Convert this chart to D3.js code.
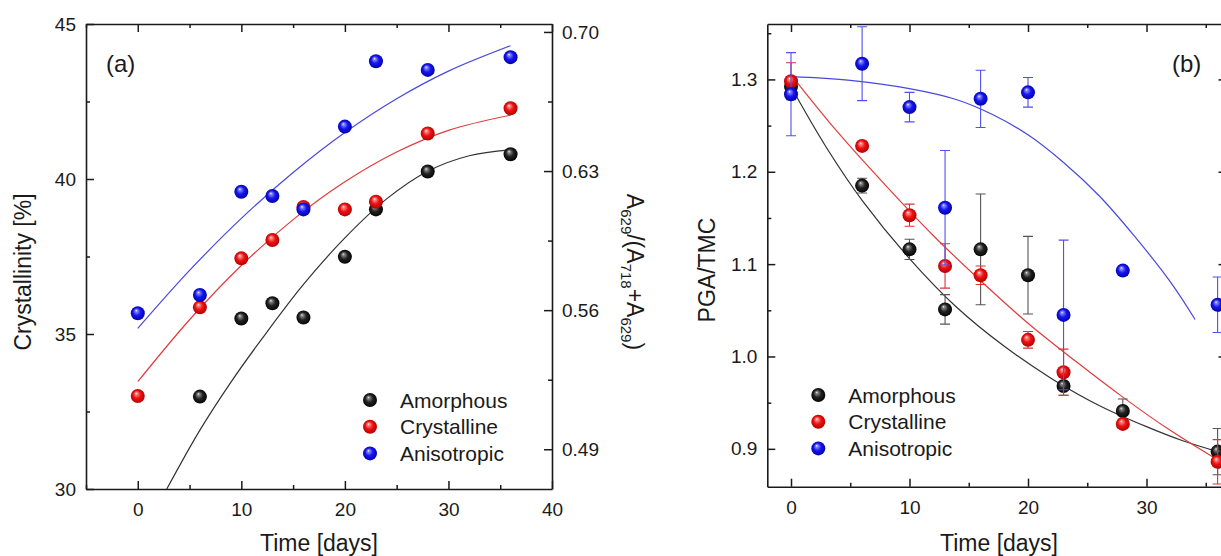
<!DOCTYPE html>
<html>
<head>
<meta charset="utf-8">
<script src="https://cdn.jsdelivr.net/npm/d3@7"></script>
<style>
  html, body { margin: 0; padding: 0; background: #fff; }
  svg { display: block; font-family: "Liberation Sans", Arial, sans-serif; }
</style>
</head>
<body>
<div id="chart"></div>
<script>
// ---------- data ----------
const seriesNames = ['Amorphous', 'Crystalline', 'Anisotropic'];

// panel (a): crystallinity [%] vs time [days]
const crystAmorphous   = [[6, 32.98], [10, 35.5], [13, 35.99], [16, 35.53], [20, 37.49], [23, 39.02], [28, 40.24], [36, 40.8]];
const crystCrystalline = [[0, 33.0], [6, 35.86], [10, 37.44], [13, 38.03], [16, 39.1], [20, 39.02], [23, 39.27], [28, 41.47], [36, 42.28]];
const crystAnisotropic = [[0, 35.67], [6, 36.26], [10, 39.59], [13, 39.45], [16, 39.02], [20, 41.69], [23, 43.8], [28, 43.52], [36, 43.93]];

const fitAAmorphous   = [[2.8, 30.0], [6, 31.9], [9, 33.45], [12, 34.85], [16, 36.6], [20, 38.1], [24, 39.35], [28, 40.25], [32, 40.75], [36, 40.94]];
const fitACrystalline = [[0, 33.46], [5, 35.46], [10, 37.21], [15, 38.69], [20, 39.91], [25, 40.87], [30, 41.57], [36, 42.06]];
const fitAAnisotropic = [[0, 35.18], [5, 37.05], [10, 38.73], [15, 40.21], [20, 41.5], [25, 42.59], [30, 43.48], [36, 44.3]];

// panel (b): PGA/TMC vs time [days]  -> [day, value, error]
const pgaAmorphous   = [[0, 1.292, 0.01], [6, 1.185, 0.008], [10, 1.116, 0.011], [13, 1.051, 0.016], [16, 1.116, 0.06], [20, 1.088, 0.042], [23, 0.968, 0.01], [28, 0.941, 0.013], [36, 0.897, 0.025]];
const pgaCrystalline = [[0, 1.298, 0.02], [6, 1.228, 0.005], [10, 1.153, 0.012], [13, 1.098, 0.024], [16, 1.088, 0.01], [20, 1.018, 0.009], [23, 0.983, 0.025], [28, 0.927, 0.005], [36, 0.886, 0.024]];
const pgaAnisotropic = [[0, 1.284, 0.045], [6, 1.317, 0.04], [10, 1.270, 0.016], [13, 1.161, 0.062], [16, 1.279, 0.031], [20, 1.286, 0.016], [23, 1.045, 0.081], [28, 1.093, 0.005], [36, 1.056, 0.03]];

const fitBAmorphous   = [[0, 1.292], [3, 1.226], [6, 1.169], [10, 1.106], [14, 1.053], [18, 1.011], [22, 0.976], [26, 0.947], [30, 0.924], [33, 0.909], [36, 0.897]];
const fitBCrystalline = [[0, 1.305], [4, 1.242], [8, 1.185], [12, 1.131], [16, 1.082], [20, 1.036], [24, 0.995], [28, 0.956], [32, 0.920], [36, 0.888]];
const fitBAnisotropic = [[0, 1.303], [5, 1.299], [10, 1.290], [14, 1.278], [17, 1.262], [20, 1.240], [23, 1.210], [26, 1.174], [29, 1.130], [32, 1.081], [34.1, 1.040]];

// axis ticks
const ticksAX = [0, 10, 20, 30, 40];
const ticksAY = [30, 35, 40, 45];
const ticksAY2 = [0.49, 0.56, 0.63, 0.70];
const ticksBX = [0, 10, 20, 30];
const ticksBY = [0.9, 1.0, 1.1, 1.2, 1.3];

// ---------- drawing ----------
const W = 1221, H = 556;
const ink = '#1a1a1a';
const lineColor = { Amorphous: '#333333', Crystalline: '#e23b3b', Anisotropic: '#4848e0' };
const errColor  = { Amorphous: '#555555', Crystalline: '#e03030', Anisotropic: '#5050f0' };
const shade = {
  Amorphous:   ['#f4f4f4', '#8a8a8a', '#222222', '#000000'],
  Crystalline: ['#ffffff', '#ff8a8a', '#ee1111', '#a80000'],
  Anisotropic: ['#ffffff', '#8a8aff', '#1515ee', '#0000a0']
};

const svg = d3.select('#chart').append('svg')
  .attr('width', W).attr('height', H)
  .attr('viewBox', `0 0 ${W} ${H}`);

const defs = svg.append('defs');
seriesNames.forEach((name, i) => {
  const gr = defs.append('radialGradient')
    .attr('id', 'ball' + i)
    .attr('cx', 0.5).attr('cy', 0.5).attr('r', 0.55)
    .attr('fx', 0.38).attr('fy', 0.3);
  [[0, 0], [0.14, 1], [0.5, 2], [1, 3]].forEach(([o, k]) =>
    gr.append('stop').attr('offset', o).attr('stop-color', shade[name][k]));
});

function styleAxis(sel, fontSize) {
  sel.selectAll('path.domain').attr('stroke', ink).attr('stroke-width', 1.6);
  sel.selectAll('.tick line').attr('stroke', ink).attr('stroke-width', 1.5);
  sel.selectAll('.tick text')
    .attr('fill', ink)
    .attr('font-size', fontSize)
    .attr('font-family', '"Liberation Sans", Arial, sans-serif');
  sel.attr('font-family', null).attr('font-size', null);
}

function frame(g, x, y, xTicks, xMinor, yTicks, yMinor, yFmt, rightScale, rightTicks, rightMinor) {
  const [x0, x1] = x.range();
  const [y0, y1] = y.range();
  // minor ticks
  g.append('g').attr('transform', `translate(0,${y0})`)
    .call(d3.axisBottom(x).tickValues(xMinor).tickSize(-4).tickSizeOuter(0).tickFormat(''))
    .call(s => s.select('.domain').remove()).call(s => styleAxis(s, 0));
  g.append('g').attr('transform', `translate(0,${y1})`)
    .call(d3.axisTop(x).tickValues(xMinor).tickSize(-4).tickSizeOuter(0).tickFormat(''))
    .call(s => s.select('.domain').remove()).call(s => styleAxis(s, 0));
  g.append('g').attr('transform', `translate(${x0},0)`)
    .call(d3.axisLeft(y).tickValues(yMinor).tickSize(-4).tickSizeOuter(0).tickFormat(''))
    .call(s => s.select('.domain').remove()).call(s => styleAxis(s, 0));
  if (rightMinor) {
    g.append('g').attr('transform', `translate(${x1},0)`)
      .call(d3.axisRight(rightScale).tickValues(rightMinor).tickSize(-4).tickSizeOuter(0).tickFormat(''))
      .call(s => s.select('.domain').remove()).call(s => styleAxis(s, 0));
  }
  // major ticks + axis lines
  g.append('g').attr('transform', `translate(0,${y0})`)
    .call(d3.axisBottom(x).tickValues(xTicks).tickSize(-8).tickSizeOuter(0).tickPadding(14).tickFormat(d3.format('d')))
    .call(s => styleAxis(s, 19));
  g.append('g').attr('transform', `translate(0,${y1})`)
    .call(d3.axisTop(x).tickValues(xTicks).tickSize(-8).tickSizeOuter(0).tickFormat(''))
    .call(s => styleAxis(s, 0));
  g.append('g').attr('transform', `translate(${x0},0)`)
    .call(d3.axisLeft(y).tickValues(yTicks).tickSize(-8).tickSizeOuter(0).tickPadding(10).tickFormat(yFmt))
    .call(s => styleAxis(s, 19));
  g.append('g').attr('transform', `translate(${x1},0)`)
    .call(d3.axisRight(rightScale).tickValues(rightTicks).tickSize(-8).tickSizeOuter(0).tickPadding(10)
      .tickFormat(rightMinor ? d3.format('.2f') : ''))
    .call(s => styleAxis(s, 19));
}

function balls(g, x, y, data, i) {
  g.append('g').selectAll('circle').data(data).join('circle')
    .attr('cx', d => x(d[0])).attr('cy', d => y(d[1]))
    .attr('r', 7)
    .attr('fill', `url(#ball${i})`);
}

function fitLine(g, x, y, pts, name) {
  g.append('path').datum(pts)
    .attr('fill', 'none')
    .attr('stroke', lineColor[name])
    .attr('stroke-width', 1.2)
    .attr('d', d3.line().x(d => x(d[0])).y(d => y(d[1])).curve(d3.curveCatmullRom));
}

function legend(g, lx, ly) {
  seriesNames.forEach((name, i) => {
    const yy = ly + i * 26.7;
    g.append('circle').attr('cx', lx).attr('cy', yy).attr('r', 7).attr('fill', `url(#ball${i})`);
    g.append('text').attr('x', lx + 30).attr('y', yy).attr('dy', '0.36em')
      .attr('font-size', 21).attr('fill', ink).text(name);
  });
}

// ----- panel (a) -----
(function panelA() {
  const x = d3.scaleLinear().domain([-5, 40]).range([86, 552]);
  const y = d3.scaleLinear().domain([30, 45]).range([489, 24]);
  const y2 = d3.scaleLinear().domain([0.47, 0.704]).range([489, 24]);
  const g = svg.append('g');

  const fits = [fitAAmorphous, fitACrystalline, fitAAnisotropic];
  const pts = [crystAmorphous, crystCrystalline, crystAnisotropic];
  seriesNames.forEach((name, i) => fitLine(g, x, y, fits[i], name));
  seriesNames.forEach((name, i) => balls(g, x, y, pts[i], i));

  frame(g, x, y, ticksAX, [-5, 5, 15, 25, 35], ticksAY, [32.5, 37.5, 42.5], d3.format('d'),
    y2, ticksAY2, [0.525, 0.595, 0.665]);

  legend(g, 370, 400);

  g.append('text').attr('x', 106).attr('y', 72).attr('font-size', 24).attr('fill', ink).text('(a)');
  g.append('text').attr('x', 319).attr('y', 551).attr('text-anchor', 'middle')
    .attr('font-size', 23).attr('fill', ink).text('Time [days]');
  g.append('text').attr('transform', 'translate(31,272) rotate(-90)').attr('text-anchor', 'middle')
    .attr('font-size', 23).attr('fill', ink).text('Crystallinity [%]');

  const r = g.append('text').attr('transform', 'translate(627,272) rotate(90)').attr('text-anchor', 'middle')
    .attr('font-size', 23).attr('fill', ink);
  const parts = [['A', 0], ['629', 1], ['/(A', 0], ['718', 1], ['+A', 0], ['629', 1], [')', 0]];
  let shifted = false;
  parts.forEach(([t, sub]) => {
    const ts = r.append('tspan').text(t);
    if (sub && !shifted) { ts.attr('dy', 6).attr('font-size', 15); shifted = true; }
    else if (sub) { ts.attr('font-size', 15); }
    else if (shifted) { ts.attr('dy', -6); shifted = false; }
  });
})();

// ----- panel (b) -----
(function panelB() {
  const x = d3.scaleLinear().domain([-2, 36.75]).range([767.3, 1226.5]);
  const y = d3.scaleLinear().domain([0.859, 1.36]).range([486.7, 24]);
  const g = svg.append('g');

  const fits = [fitBAmorphous, fitBCrystalline, fitBAnisotropic];
  const pts = [pgaAmorphous, pgaCrystalline, pgaAnisotropic];
  seriesNames.forEach((name, i) => fitLine(g, x, y, fits[i], name));

  seriesNames.forEach((name, i) => {
    const eb = g.append('g').attr('stroke', errColor[name]).attr('stroke-width', 1.1).attr('fill', 'none');
    eb.selectAll('path').data(pts[i]).join('path')
      .attr('d', d => {
        const cx = x(d[0]), top = y(d[1] + d[2]), bot = y(d[1] - d[2]);
        return `M${cx},${top}V${bot}M${cx - 5},${top}H${cx + 5}M${cx - 5},${bot}H${cx + 5}`;
      });
    balls(g, x, y, pts[i], i);
  });

  frame(g, x, y, ticksBX, [5, 15, 25, 35], ticksBY, [0.95, 1.05, 1.15, 1.25, 1.35], d3.format('.1f'),
    y, ticksBY, null);

  legend(g, 818.3, 395);

  g.append('text').attr('x', 1172).attr('y', 72).attr('font-size', 24).attr('fill', ink).text('(b)');
  g.append('text').attr('x', 999).attr('y', 551).attr('text-anchor', 'middle')
    .attr('font-size', 23).attr('fill', ink).text('Time [days]');
  g.append('text').attr('transform', 'translate(715,270) rotate(-90)').attr('text-anchor', 'middle')
    .attr('font-size', 23).attr('fill', ink).text('PGA/TMC');
})();
</script>
</body>
</html>
